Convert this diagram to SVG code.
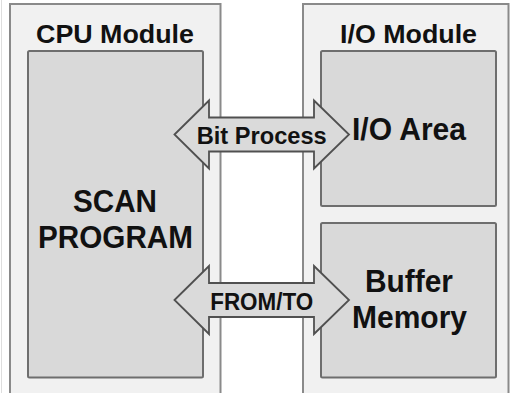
<svg xmlns="http://www.w3.org/2000/svg" width="510" height="393" viewBox="0 0 510 393">
  <style>
    .outer { fill: #f1f1f1; stroke: #8a8a8a; stroke-width: 2; }
    .inner { fill: #d9d9d9; stroke: #6e6e6e; stroke-width: 2; }
    .arrow { fill: #dadada; stroke: #505050; stroke-width: 1.8; stroke-linejoin: miter; }
    text { font-family: "Liberation Sans", Arial, sans-serif; font-weight: bold; fill: #111111; text-anchor: middle; }
    .title { font-size: 26px; }
    .big { font-size: 31px; }
    .lbl { font-size: 24px; }
  </style>
  <rect width="510" height="393" fill="#ffffff"/>
  <line x1="1.5" y1="0" x2="1.5" y2="393" stroke="#dedede" stroke-width="1"/>

  <!-- CPU module with its scan program -->
  <g id="cpu-module">
    <rect class="outer" x="10" y="4" width="210.5" height="394"/>
    <text class="title" x="115" y="42.5" textLength="158" lengthAdjust="spacingAndGlyphs">CPU Module</text>
  </g>
  <g id="scan-program">
    <rect class="inner" x="28" y="51" width="175" height="326.5" rx="1.5"/>
    <text class="big" x="115" y="211.5" textLength="84" lengthAdjust="spacingAndGlyphs">SCAN</text>
    <text class="big" x="115.5" y="247.5" textLength="155" lengthAdjust="spacingAndGlyphs">PROGRAM</text>
  </g>

  <!-- I/O module with its two memory areas -->
  <g id="io-module">
    <rect class="outer" x="303" y="4" width="205.5" height="394"/>
    <text class="title" x="408.5" y="42.5" textLength="137" lengthAdjust="spacingAndGlyphs">I/O Module</text>
  </g>
  <g id="io-area">
    <rect class="inner" x="321" y="51" width="175" height="155" rx="1.5"/>
    <text class="big" x="409" y="139.5" textLength="114" lengthAdjust="spacingAndGlyphs">I/O Area</text>
  </g>
  <g id="buffer-memory">
    <rect class="inner" x="321" y="223" width="175" height="154.5" rx="1.5"/>
    <text class="big" x="409" y="292" textLength="88" lengthAdjust="spacingAndGlyphs">Buffer</text>
    <text class="big" x="409.5" y="327.5" textLength="115" lengthAdjust="spacingAndGlyphs">Memory</text>
  </g>

  <!-- Double-headed transfer arrows between the modules -->
  <g id="connectors">
    <g id="bit-process">
      <path class="arrow" d="M174.5,134.5 L209,100.5 L209,117.5 L314,117.5 L314,100.5 L349,134.5 L314,168.5 L314,151.5 L209,151.5 L209,168.5 Z"/>
      <text class="lbl" x="261.7" y="144" textLength="130" lengthAdjust="spacingAndGlyphs">Bit Process</text>
    </g>
    <g id="from-to">
      <path class="arrow" d="M174.5,300 L209,266 L209,283 L314,283 L314,266 L349,300 L314,334 L314,317 L209,317 L209,334 Z"/>
      <text class="lbl" x="261.7" y="310" textLength="103" lengthAdjust="spacingAndGlyphs">FROM/TO</text>
    </g>
  </g>
</svg>
